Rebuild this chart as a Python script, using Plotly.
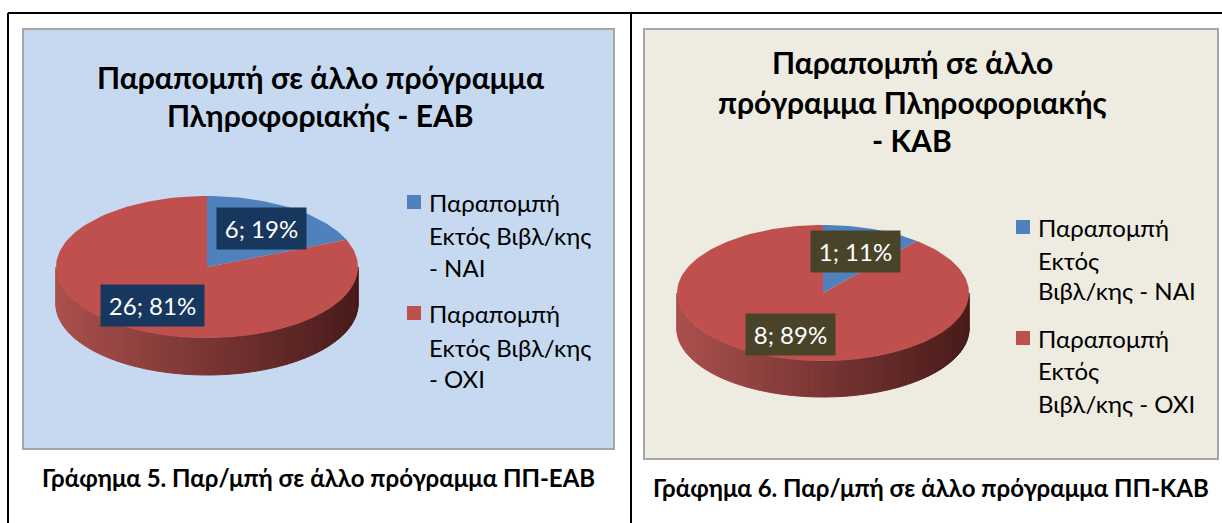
import math
import plotly.graph_objects as go

# ---- data ---------------------------------------------------------------
categories = ["Παραπομπή Εκτός Βιβλ/κης - ΝΑΙ", "Παραπομπή Εκτός Βιβλ/κης - ΟΧΙ"]
eab_values = [6, 26]
kab_values = [1, 8]
eab_title = ["Παραπομπή σε άλλο πρόγραμμα", "Πληροφοριακής - ΕΑΒ"]
kab_title = ["Παραπομπή σε άλλο", "πρόγραμμα Πληροφοριακής", "- ΚΑΒ"]
eab_legend = [["Παραπομπή", "Εκτός Βιβλ/κης", "- ΝΑΙ"], ["Παραπομπή", "Εκτός Βιβλ/κης", "- ΟΧΙ"]]
kab_legend = [["Παραπομπή", "Εκτός", "Βιβλ/κης - ΝΑΙ"], ["Παραπομπή", "Εκτός", "Βιβλ/κης - ΟΧΙ"]]
eab_caption = "Γράφημα 5. Παρ/μπή σε άλλο πρόγραμμα ΠΠ-ΕΑΒ"
kab_caption = "Γράφημα 6. Παρ/μπή σε άλλο πρόγραμμα ΠΠ-ΚΑΒ"

# ---- styling / geometry -------------------------------------------------
W, H = 1222, 523
FONT = "Lato, 'Noto Sans', sans-serif"
slice_colors = ["#4F81BD", "#C0504D"]
side_light = (170, 80, 77)
side_dark = (72, 27, 26)

panels = [
    dict(values=eab_values, title=eab_title, legend=eab_legend, caption=eab_caption,
         box=(23, 29, 614, 449), bg="#C6D9F1", label_bg="#17375E",
         title_y=[77, 115], title_x=320,
         pie=dict(cx=207, cy=267, rx=151, ry=71, depth=37),
         legend_x=407, legend_y=[[202, 235, 267], [313, 347, 378]],
         caption_x=318, caption_y=477),
    dict(values=kab_values, title=kab_title, legend=kab_legend, caption=kab_caption,
         box=(644, 29, 1218, 459), bg="#EEECE1", label_bg="#494429",
         title_y=[62, 102, 140], title_x=912,
         pie=dict(cx=823, cy=293, rx=146, ry=68, depth=36),
         legend_x=1016, legend_y=[[227, 260, 290], [338, 370, 403]],
         caption_x=931, caption_y=487),
]


def ellipse_pt(p, theta_deg, r=1.0, dy=0.0):
    t = math.radians(theta_deg)
    return p["cx"] + r * p["rx"] * math.sin(t), p["cy"] - r * p["ry"] * math.cos(t) + dy


def lerp_color(t):
    c = [round(a + (b - a) * t) for a, b in zip(side_light, side_dark)]
    return f"rgb({c[0]},{c[1]},{c[2]})"


fig = go.Figure()
shapes = []
annotations = []

# table frame
shapes += [
    dict(type="line", x0=8, y0=13, x1=W, y1=13, line=dict(color="black", width=2)),
    dict(type="line", x0=8, y0=13, x1=8, y1=H, line=dict(color="black", width=2)),
    dict(type="line", x0=631, y0=13, x1=631, y1=H, line=dict(color="black", width=2)),
]

for pnl in panels:
    x0, y0, x1, y1 = pnl["box"]
    shapes.append(dict(type="rect", x0=x0, y0=y0, x1=x1, y1=y1, fillcolor=pnl["bg"],
                       line=dict(color="#A6A6A6", width=2), layer="below"))

    vals = pnl["values"]
    total = sum(vals)
    p = pnl["pie"]
    # angular extents of each slice, clockwise from 12 o'clock
    bounds = []
    start = 0.0
    for v in vals:
        end = start + 360.0 * v / total
        bounds.append((start, end))
        start = end

    # visible front wall of the disc, shaded left to right
    n_strips = 90
    for k in range(n_strips):
        a1 = 90 + 180.0 * k / n_strips
        a2 = 90 + 180.0 * (k + 1) / n_strips
        pts = [ellipse_pt(p, a1), ellipse_pt(p, a2),
               ellipse_pt(p, a2, dy=p["depth"]), ellipse_pt(p, a1, dy=p["depth"])]
        xm = (pts[0][0] + pts[1][0]) / 2
        col = lerp_color((xm - (p["cx"] - p["rx"])) / (2 * p["rx"]))
        fig.add_trace(go.Scatter(x=[q[0] for q in pts] + [pts[0][0]],
                                 y=[q[1] for q in pts] + [pts[0][1]],
                                 mode="lines", fill="toself", fillcolor=col,
                                 line=dict(color=col, width=1), hoverinfo="skip",
                                 showlegend=False))

    # top face slices
    for i, (a, b) in enumerate(bounds):
        steps = max(8, int((b - a) / 2))
        xs, ys = [p["cx"]], [p["cy"]]
        for s in range(steps + 1):
            x, y = ellipse_pt(p, a + (b - a) * s / steps)
            xs.append(x)
            ys.append(y)
        xs.append(p["cx"])
        ys.append(p["cy"])
        fig.add_trace(go.Scatter(x=xs, y=ys, mode="lines", fill="toself",
                                 fillcolor=slice_colors[i], line=dict(width=0),
                                 name=categories[i], hoverinfo="skip", showlegend=False))

    # data labels
    for i, (a, b) in enumerate(bounds):
        lx, ly = ellipse_pt(p, (a + b) / 2, r=0.65)
        pct = round(100 * vals[i] / total)
        text = f"{vals[i]}; {pct}%"
        annotations.append(dict(x=lx, y=ly, xref="x", yref="y", showarrow=False,
                                text=text, bgcolor=pnl["label_bg"], borderpad=0,
                                width=14 * len(text) + 5, height=41,
                                font=dict(family=FONT, size=24, color="white")))

    # title
    for ty, line in zip(pnl["title_y"], pnl["title"]):
        annotations.append(dict(x=pnl["title_x"], y=ty, xref="x", yref="y", showarrow=False,
                                text=f"<b>{line}</b>",
                                font=dict(family=FONT, size=30, color="black")))

    # legend
    for i, lines in enumerate(pnl["legend"]):
        ly0 = pnl["legend_y"][i][0]
        fig.add_trace(go.Scatter(x=[pnl["legend_x"] + 7], y=[ly0], mode="markers",
                                 marker=dict(symbol="square", size=14, color=slice_colors[i]),
                                 hoverinfo="skip", showlegend=False))
        for ly, line in zip(pnl["legend_y"][i], lines):
            annotations.append(dict(x=pnl["legend_x"] + 20, y=ly, xref="x", yref="y",
                                    xanchor="left", showarrow=False, text=line,
                                    font=dict(family=FONT, size=24, color="black")))

    # caption
    annotations.append(dict(x=pnl["caption_x"], y=pnl["caption_y"], xref="x", yref="y",
                            showarrow=False, text=f"<b>{pnl['caption']}</b>",
                            font=dict(family=FONT, size=24, color="black")))

fig.update_layout(
    width=W, height=H, margin=dict(l=0, r=0, t=0, b=0),
    paper_bgcolor="white", plot_bgcolor="white",
    xaxis=dict(range=[0, W], visible=False, fixedrange=True),
    yaxis=dict(range=[H, 0], visible=False, fixedrange=True),
    shapes=shapes, annotations=annotations, showlegend=False,
)

fig.write_html("out.html")
